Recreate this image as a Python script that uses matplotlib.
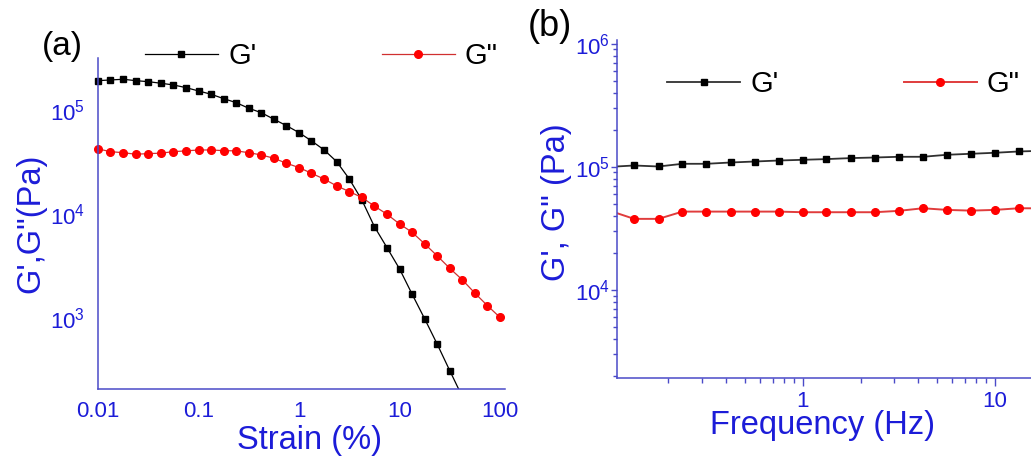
import matplotlib
matplotlib.use("Agg")
import matplotlib.pyplot as plt
import numpy as np
from matplotlib.lines import Line2D
from matplotlib.ticker import FixedLocator, FuncFormatter, LogLocator, NullFormatter, NullLocator

plt.rcParams["font.family"] = ["Liberation Sans", "DejaVu Sans"]
plt.rcParams["mathtext.fontset"] = "custom"
plt.rcParams["mathtext.rm"] = "Liberation Sans"
plt.rcParams["mathtext.default"] = "regular"

BLUE = "#1c1cd8"
AXIS = "#4a4ac8"

# amplitude sweep (strain in %)
strain = [0.01, 0.0133, 0.0178, 0.0237, 0.0316, 0.0422, 0.0562, 0.075,
          0.1, 0.133, 0.178, 0.237, 0.316, 0.422, 0.562, 0.75,
          1, 1.33, 1.78, 2.37, 3.16, 4.22, 5.62, 7.5,
          10, 13.3, 17.8, 23.7, 31.6, 42.2, 56.2, 75, 100]
g1_strain = [1.913e5, 1.943e5, 1.973e5, 1.913e5, 1.871e5, 1.806e5, 1.740e5, 1.639e5,
             1.523e5, 1.416e5, 1.284e5, 1.175e5, 1.038e5, 9.40e4, 8.14e4, 7.06e4,
             6.05e4, 5.04e4, 4.12e4, 3.18e4, 2.17e4, 1.36e4, 7550, 4740,
             2960, 1700, 978, 559, 311, 174]
g2_strain = [4.22e4, 3.97e4, 3.88e4, 3.75e4, 3.80e4, 3.84e4, 3.97e4, 4.04e4,
             4.12e4, 4.12e4, 4.06e4, 4.04e4, 3.88e4, 3.69e4, 3.43e4, 3.07e4,
             2.79e4, 2.46e4, 2.16e4, 1.86e4, 1.64e4, 1.44e4, 1.19e4, 9930,
             8010, 6670, 5150, 3950, 3000, 2320, 1730, 1310, 1010]

# frequency sweep (Hz)
freq = [0.1, 0.133, 0.178, 0.237, 0.316, 0.422, 0.562, 0.75,
        1, 1.33, 1.78, 2.37, 3.16, 4.22, 5.62, 7.5, 10, 13.3, 17.8]
g1_freq = [1.00e5, 1.025e5, 1.006e5, 1.058e5, 1.058e5, 1.084e5, 1.104e5, 1.125e5,
           1.140e5, 1.155e5, 1.177e5, 1.190e5, 1.206e5, 1.206e5, 1.252e5, 1.276e5,
           1.300e5, 1.332e5, 1.350e5]
g2_freq = [4.38e4, 3.78e4, 3.78e4, 4.33e4, 4.33e4, 4.33e4, 4.33e4, 4.33e4,
           4.28e4, 4.28e4, 4.28e4, 4.28e4, 4.39e4, 4.61e4, 4.47e4, 4.41e4,
           4.47e4, 4.61e4, 4.60e4]

labels = ["G'", 'G"']


def sci(v, pos):
    return r"$10^{%d}$" % round(np.log10(v))


fig = plt.figure(figsize=(10.31, 4.57), dpi=100)

# ---- (a) strain sweep ----
ax1 = fig.add_axes([0.0951, 0.1488, 0.3947, 0.7243])
ax1.set_xscale("log")
ax1.set_yscale("log")
ylo = 207
x1 = np.array(strain[:len(g1_strain)])
y1 = np.array(g1_strain)
x2 = np.array(strain)
y2 = np.array(g2_strain)
ax1.plot(x1, y1, "-", color="k", lw=0.9)
ax1.plot(x2, y2, "-", color="#d03030", lw=0.9)
vis = y1 >= ylo
ax1.plot(x1[vis], y1[vis], "s", color="k", ms=5, clip_on=False)
ax1.plot(x2, y2, "o", color="red", ms=5.5, clip_on=False)
ax1.set_xlim(0.01, 112)
ax1.set_ylim(ylo, 3.16e5)
for s in ["top", "right"]:
    ax1.spines[s].set_visible(False)
for s in ["left", "bottom"]:
    ax1.spines[s].set_color(AXIS)
    ax1.spines[s].set_linewidth(1.1)
ax1.xaxis.set_major_locator(FixedLocator([0.01, 0.1, 1, 10, 100]))
ax1.xaxis.set_major_formatter(FuncFormatter(lambda v, p: "%g" % v))
ax1.yaxis.set_major_locator(FixedLocator([1e3, 1e4, 1e5]))
ax1.yaxis.set_major_formatter(FuncFormatter(sci))
ax1.xaxis.set_minor_locator(NullLocator())
ax1.yaxis.set_minor_locator(NullLocator())
ax1.tick_params(axis="x", length=0, labelsize=16, labelcolor=BLUE, pad=8.5)
ax1.tick_params(axis="y", length=0, labelsize=16, labelcolor=BLUE, pad=9.5)
ax1.set_xlabel("Strain (%)", fontsize=23.5, color=BLUE, va="center")
ax1.xaxis.set_label_coords(0.52, -0.157)
ax1.set_ylabel("G',G\"(Pa)", fontsize=23.5, color=BLUE, va="center")
ax1.yaxis.set_label_coords(-0.165, 0.50)

h1 = [Line2D([], [], color="k", lw=0.9, marker="s", ms=5),
      Line2D([], [], color="#d03030", lw=0.9, marker="o", mfc="red", mec="red", ms=5.5)]
ax1.legend(h1, labels, loc="center left", bbox_to_anchor=(0.1406, 0.8775),
           bbox_transform=fig.transFigure, ncol=2, frameon=False, fontsize=21,
           handlelength=2.5, handletextpad=0.35, columnspacing=4.3,
           borderpad=0, borderaxespad=0)

# ---- (b) frequency sweep ----
ax2 = fig.add_axes([0.5984, 0.1718, 0.4016, 0.7407])
ax2.set_xscale("log")
ax2.set_yscale("log")
ax2.plot(freq, g1_freq, "-", color="#303030", lw=1.3, marker="s", ms=5, mfc="k", mec="k")
ax2.plot(freq, g2_freq, "-", color="#e03c3c", lw=1.4, marker="o", ms=5.5, mfc="red", mec="red")
ax2.set_xlim(0.1082, 15.39)
ax2.set_ylim(1914, 1.07e6)
for s in ["top", "right"]:
    ax2.spines[s].set_visible(False)
for s in ["left", "bottom"]:
    ax2.spines[s].set_color(AXIS)
    ax2.spines[s].set_linewidth(1.1)
ax2.xaxis.set_major_locator(FixedLocator([1, 10]))
ax2.xaxis.set_major_formatter(FuncFormatter(lambda v, p: "%g" % v))
ax2.xaxis.set_minor_locator(LogLocator(base=10, subs=np.arange(2, 10)))
ax2.xaxis.set_minor_formatter(NullFormatter())
ax2.yaxis.set_major_locator(FixedLocator([1e4, 1e5, 1e6]))
ax2.yaxis.set_major_formatter(FuncFormatter(sci))
ax2.yaxis.set_minor_locator(LogLocator(base=10, subs=np.arange(2, 10)))
ax2.yaxis.set_minor_formatter(NullFormatter())
ax2.tick_params(axis="x", which="major", direction="out", length=6, width=1,
                color=AXIS, labelsize=16, labelcolor=BLUE, pad=3)
ax2.tick_params(axis="x", which="minor", direction="out", length=3.8, width=1, color=AXIS)
ax2.tick_params(axis="y", which="major", direction="out", length=4, width=1,
                color=AXIS, labelsize=16, labelcolor=BLUE, pad=1)
ax2.tick_params(axis="y", which="minor", direction="out", length=3, width=1, color=AXIS)
ax2.set_xlabel("Frequency (Hz)", fontsize=23.5, color=BLUE, va="center")
ax2.xaxis.set_label_coords(0.4976, -0.140)
ax2.set_ylabel("G', G\" (Pa)", fontsize=23.5, color=BLUE, va="center")
ax2.yaxis.set_label_coords(-0.147, 0.521)

h2 = [Line2D([], [], color="#303030", lw=1.3, marker="s", ms=5, mfc="k", mec="k"),
      Line2D([], [], color="#e03c3c", lw=1.4, marker="o", mfc="red", mec="red", ms=5.5)]
ax2.legend(h2, labels, loc="center left", bbox_to_anchor=(0.647, 0.8162),
           bbox_transform=fig.transFigure, ncol=2, frameon=False, fontsize=21,
           handlelength=2.5, handletextpad=0.35, columnspacing=4.3,
           borderpad=0, borderaxespad=0)

fig.text(62 / 1031, 1 - 47 / 457, "(a)", ha="center", va="center", fontsize=24)
fig.text(550 / 1031, 1 - 27 / 457, "(b)", ha="center", va="center", fontsize=26)

fig.savefig("out.png", dpi=100)
